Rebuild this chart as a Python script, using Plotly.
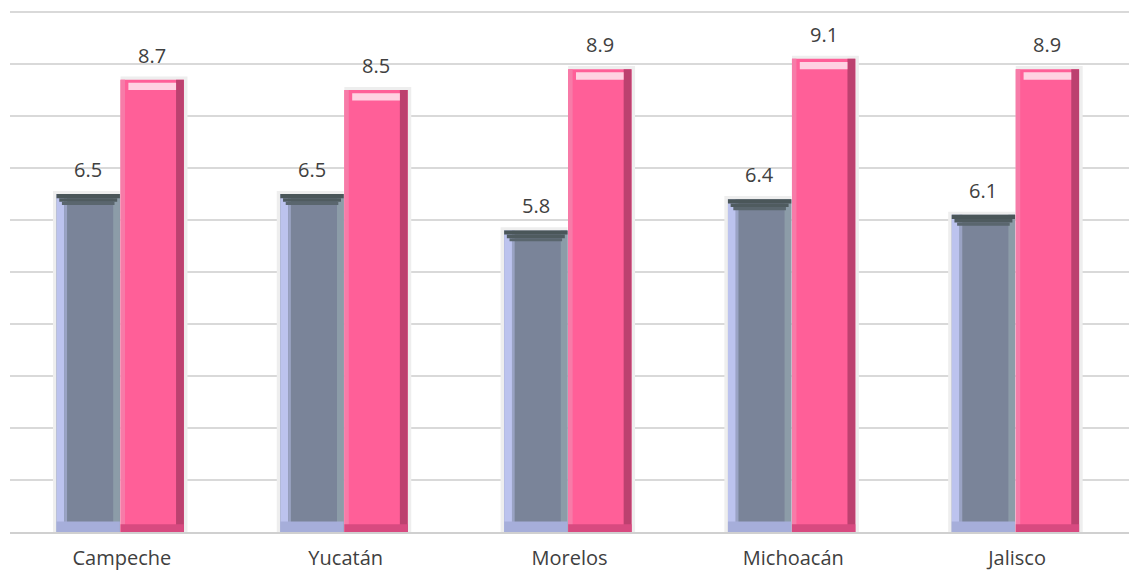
import plotly.graph_objects as go

states = ["Campeche", "Yucatán", "Morelos", "Michoacán", "Jalisco"]
serie_a = [6.5, 6.5, 5.8, 6.4, 6.1]
serie_b = [8.7, 8.5, 8.9, 9.1, 8.9]
y_ticks = [0, 1, 2, 3, 4, 5, 6, 7, 8, 9, 10]

FONT = "Open Sans, Liberation Sans, sans-serif"
W = 0.283
GRAY_OFF = -0.292
PINK_OFF = -0.006
SH = 0.016  # shadow spread (category units)

fig = go.Figure()

def bar(y, off, width, color, base=None):
    fig.add_trace(go.Bar(
        x=states, y=y, base=base, offset=off, width=width,
        marker=dict(color=color, line=dict(width=0)),
        showlegend=False, hoverinfo="skip"))

# soft shadows
bar([v + 0.06 for v in serie_a], GRAY_OFF - SH, W + SH, "#EEEEEE")
bar([v + 0.06 for v in serie_b], PINK_OFF, W + SH, "#EEEEEE")

# gray series
bar(serie_a, GRAY_OFF, W, "#7A8499")
bar(serie_a, GRAY_OFF, 0.035, "#BCC3EE")
bar(serie_a, GRAY_OFF + 0.035, 0.012, "#9AA3C4")
bar(serie_a, GRAY_OFF + W - 0.03, 0.03, "#8C9CA8")
# trapezoid-like top bevel
n = len(serie_a)
bar([0.08] * n, GRAY_OFF, W, "#4A5659", base=[v - 0.08 for v in serie_a])
bar([0.07] * n, GRAY_OFF + 0.012, W - 0.024, "#4F5B5F", base=[v - 0.15 for v in serie_a])
bar([0.06] * n, GRAY_OFF + 0.024, W - 0.048, "#5A666E", base=[v - 0.21 for v in serie_a])
bar([0.2] * n, GRAY_OFF, W, "#A6AEDA", base=[0] * n)

# pink series
bar(serie_b, PINK_OFF, W, "#FF5F98")
bar(serie_b, PINK_OFF, 0.02, "#F77BA8")
bar(serie_b, PINK_OFF + W - 0.035, 0.035, "#BC416F")
bar([0.14] * n, PINK_OFF + 0.035, W - 0.07, "#FFD2E2", base=[v - 0.2 for v in serie_b])
bar([0.15] * n, PINK_OFF, W, "#D84A80", base=[0] * n)

# value labels
annotations = []
for off, series in ((GRAY_OFF, serie_a), (PINK_OFF, serie_b)):
    for i, v in enumerate(series):
        annotations.append(dict(x=i + off + W / 2, y=v, xref="x", yref="y",
                                text=f"{v:.1f}", showarrow=False, yanchor="bottom",
                                yshift=9, font=dict(size=20, color="#404040", family=FONT)))

fig.update_layout(
    width=1129, height=573,
    margin=dict(l=10, r=0, t=11, b=41),
    barmode="overlay",
    plot_bgcolor="white", paper_bgcolor="white",
    font=dict(family=FONT, color="#404040"),
    annotations=annotations,
    xaxis=dict(showgrid=False, tickfont=dict(size=20, color="#404040"),
               showline=True, linecolor="#D0D0D0", linewidth=2, ticks="",
               ticklabelstandoff=7, range=[-0.5, 4.5], automargin=False),
    yaxis=dict(range=[0, 10.02], tickvals=y_ticks, showticklabels=False,
               showgrid=True, gridcolor="#D9D9D9", gridwidth=1.5,
               zeroline=False, showline=False, fixedrange=True),
)

fig.write_html("out.html", config={"displayModeBar": False},
               post_script="document.body.style.margin='0';")
